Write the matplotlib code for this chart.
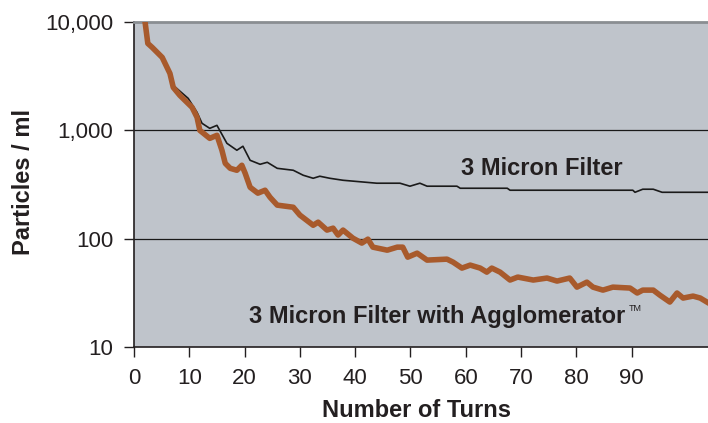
import numpy as np
import matplotlib
matplotlib.use('Agg')
import matplotlib.pyplot as plt
from matplotlib.ticker import FixedLocator, FuncFormatter

plt.rcParams['font.family'] = ['Liberation Sans', 'DejaVu Sans']

# 3 Micron Filter (thin black line)
filter_turns = [1.8, 2.5, 3.3, 5.1, 6.5, 7.1, 9.8, 11.4, 12.3, 13.7, 15.0, 16.8,
                18.6, 19.7, 21.0, 22.8, 24.1, 25.9, 28.8, 30.6, 32.4, 33.6, 35.4,
                37.8, 43.9, 48.1, 49.9, 51.7, 53.0, 58.4, 59.0, 67.5, 68.0, 90.2,
                90.6, 92.0, 93.9, 95.5, 103.8]
filter_vals = [12000, 6340, 5820, 4710, 3350, 2600, 1972, 1465, 1161, 1043, 1112, 759,
               655, 713, 529, 486, 507, 446, 428, 385, 361, 377, 361,
               346, 325, 325, 305, 325, 305, 305, 292, 292, 280, 280,
               268, 286, 286, 268, 268]

# 3 Micron Filter with Agglomerator (thick brown line)
aggl_turns = [1.8, 2.5, 3.3, 5.1, 6.5, 7.1, 8.3, 10.5, 11.4, 11.9, 13.7, 15.0, 15.9,
              16.5, 17.4, 18.6, 19.5, 20.1, 21.0, 22.4, 23.7, 24.6, 25.9, 28.8,
              30.0, 32.4, 33.3, 34.9, 36.0, 36.9, 37.8, 39.6, 41.2, 42.3, 43.2,
              45.8, 47.6, 48.6, 49.5, 51.2, 53.0, 56.6, 57.7, 59.3, 60.8, 62.6,
              63.8, 64.7, 66.2, 68.0, 69.4, 72.2, 74.7, 76.5, 78.8, 80.1, 81.9,
              83.0, 84.8, 86.6, 89.7, 91.0, 92.0, 93.9, 95.1, 96.9, 98.2, 99.3,
              101.1, 102.4, 103.6]
aggl_vals = [12000, 6340, 5820, 4710, 3350, 2490, 2100, 1630, 1318, 1000, 843, 900, 655,
             496, 446, 428, 476, 402, 298, 263, 280, 241, 204, 195,
             165, 133, 142, 120, 125, 108, 120, 101, 91, 99, 83.5,
             78.3, 83.5, 83.5, 67.5, 73.5, 63.4, 64.7, 60.7, 53.5, 57, 53.5,
             49.1, 53.5, 49.1, 41.5, 44.2, 41.5, 43.3, 40.6, 43.3, 35.7, 39.7,
             35.7, 33.5, 35.7, 35, 31.5, 33.5, 33.5, 30.1, 26, 31.5, 28.3,
             29.5, 28.3, 26]

x_ticks = [0, 10, 20, 30, 40, 50, 60, 70, 80, 90]
y_ticks = [10, 100, 1000, 10000]

ink = '#231f20'

fig = plt.figure(figsize=(7.08, 4.23), dpi=100)
ax = fig.add_axes([134 / 708, 76 / 423, 574 / 708, 325 / 423])
ax.set_facecolor('#bfc4cb')

ax.set_yscale('log')
ax.set_xlim(0, 103.8)
ax.set_ylim(10, 10000)

for yv in y_ticks[1:3]:
    ax.axhline(yv, color='#1a1a1a', lw=0.9, zorder=1)

ax.plot(filter_turns, filter_vals, color='#1a1a1a', lw=1.2, zorder=2)
ax.plot(aggl_turns, aggl_vals, color='#a85a2c', lw=4, zorder=3,
        solid_joinstyle='round')

ax.xaxis.set_major_locator(FixedLocator(x_ticks))
ax.yaxis.set_major_locator(FixedLocator(y_ticks))
ax.yaxis.set_minor_locator(FixedLocator([]))
ax.yaxis.set_major_formatter(FuncFormatter(lambda v, p: f'{int(v):,}'))
ax.tick_params(axis='both', labelsize=16, colors=ink, length=7,
               width=1, direction='out')
ax.tick_params(axis='x', pad=8)
ax.tick_params(axis='y', pad=8)

ax.spines['right'].set_visible(False)
ax.spines['top'].set_color('#8a8e92')
ax.spines['top'].set_linewidth(2)
for s in ['left', 'bottom']:
    ax.spines[s].set_color(ink)
    ax.spines[s].set_linewidth(1.2)

fig.text(416 / 708, 6 / 423, 'Number of Turns', fontsize=17, fontweight='bold',
         color=ink, ha='center', va='baseline')
fig.text(24 / 708, 1 - 181.5 / 423, 'Particles / ml', fontsize=17,
         fontweight='bold', color=ink, ha='center', va='center', rotation=90)

ax.text(73.8, 389, '3 Micron Filter', fontsize=17, fontweight='bold',
        color=ink, ha='center', va='baseline')
ax.text(54.9, 16.6, '3 Micron Filter with Agglomerator', fontsize=17,
        fontweight='bold', color=ink, ha='center', va='baseline')
ax.text(89.4, 21.5, 'TM', fontsize=6.5, color=ink, ha='left', va='baseline')

fig.savefig('out.png', dpi=100)
